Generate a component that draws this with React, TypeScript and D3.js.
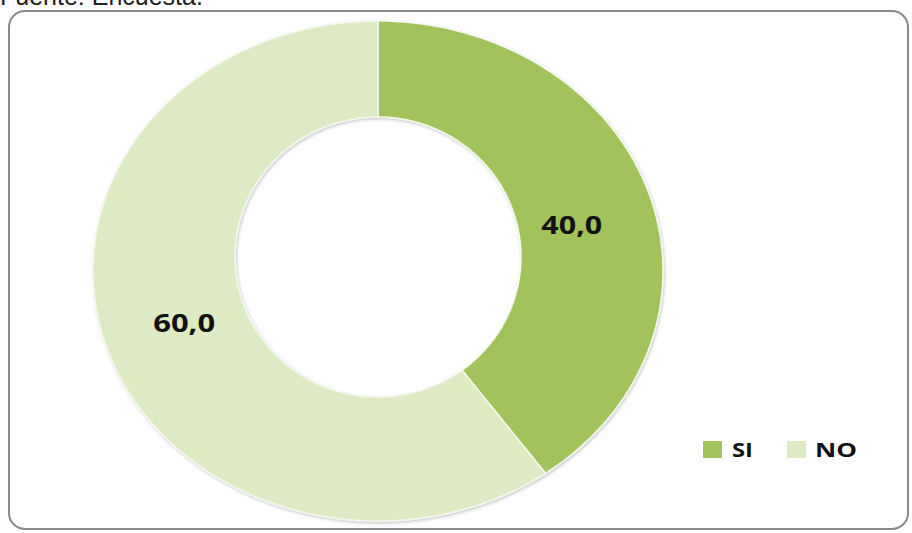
import React from "react";
import * as d3 from "d3";

const categories = ["SI", "NO"];
const values = [40.0, 60.0];
const labels = ["40,0", "60,0"];
const colors = ["#A2C35C", "#DDEAC4"];
const sourceText = "Fuente: Encuesta.";

const W = 912;
const H = 533;

export default function App() {
  // outer ellipse
  const ocx = 378;
  const ocy = 271;
  const orx = 285;
  const ory = 250;
  // inner hole ellipse
  const icx = 378;
  const icy = 257;
  const irx = 143;
  const iry = 140;

  const pie = d3.pie<number>().sort(null).value((d) => d);
  const arcs = pie(values);
  const line = d3.line<[number, number]>().curve(d3.curveLinear);

  const slicePath = (a: d3.PieArcDatum<number>) => {
    const n = 120;
    const pts: [number, number][] = [];
    for (let k = 0; k <= n; k++) {
      const t = a.startAngle + ((a.endAngle - a.startAngle) * k) / n;
      pts.push([ocx + orx * Math.sin(t), ocy - ory * Math.cos(t)]);
    }
    for (let k = n; k >= 0; k--) {
      const t = a.startAngle + ((a.endAngle - a.startAngle) * k) / n;
      pts.push([icx + irx * Math.sin(t), icy - iry * Math.cos(t)]);
    }
    return (line(pts) || "") + "Z";
  };

  // label placement around the ring
  const lcx = 378;
  const lcy = 274;
  const lkx = 0.715;
  const lky = 0.63;
  const labelWidths = [61, 62];

  return (
    <svg
      width={W}
      height={H}
      style={{ position: "absolute", left: 0, top: 0, background: "#fff" }}
    >
      <defs>
        <filter id="sh" x="-5%" y="-5%" width="110%" height="110%">
          <feDropShadow dx="1" dy="1.5" stdDeviation="1.5" floodColor="#000" floodOpacity="0.22" />
        </filter>
      </defs>
      <text
        x={0}
        y={5}
        fontFamily="Liberation Sans, Arial, sans-serif"
        fontSize={25}
        fill="#222"
      >
        {sourceText}
      </text>
      <rect
        x={9}
        y={11}
        width={899}
        height={518}
        rx={16}
        ry={16}
        fill="#fff"
        stroke="#8a8a8a"
        strokeWidth={2}
      />
      <g filter="url(#sh)">
        {arcs.map((a, i) => (
          <path
            key={categories[i]}
            d={slicePath(a)}
            fill={colors[i]}
            stroke="#f4f8ec"
            strokeWidth={1.5}
          />
        ))}
      </g>
      {arcs.map((a, i) => {
        const m = (a.startAngle + a.endAngle) / 2;
        const x = lcx + orx * lkx * Math.sin(m);
        const y = lcy - ory * lky * Math.cos(m);
        return (
          <text
            key={"l" + categories[i]}
            x={x - labelWidths[i] / 2}
            y={y + 9}
            textLength={labelWidths[i]}
            lengthAdjust="spacingAndGlyphs"
            fontFamily="Open Sans, sans-serif"
            fontWeight="bold"
            fontSize={25}
            fill="#111"
          >
            {labels[i]}
          </text>
        );
      })}
      {categories.map((c, i) => {
        const x0 = 703 + i * 84;
        const tw = [21, 42][i];
        return (
          <g key={"lg" + c}>
            <rect x={x0} y={441} width={19} height={17} fill={colors[i]} />
            <text
              x={x0 + 29 - i * 1}
              y={457}
              textLength={tw}
              lengthAdjust="spacingAndGlyphs"
              fontFamily="Open Sans, sans-serif"
              fontWeight="bold"
              fontSize={20}
              fill="#111"
            >
              {c}
            </text>
          </g>
        );
      })}
    </svg>
  );
}
